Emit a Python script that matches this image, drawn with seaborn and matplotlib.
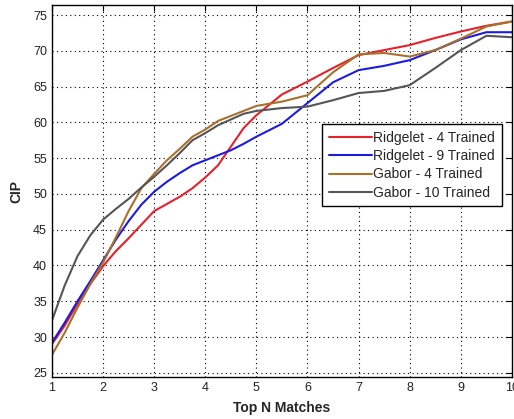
import numpy as np
import pandas as pd
import seaborn as sns
import matplotlib

matplotlib.use("Agg")
import matplotlib.pyplot as plt

# values (finer steps where the curves bend hard)
top_n = [1, 1.25, 1.5, 1.75, 2, 2.25, 2.5, 2.75, 3, 3.25, 3.5, 3.75, 4, 4.25,
         4.5, 4.75, 5, 5.5, 6, 6.5, 7, 7.5, 8, 8.5, 9, 9.5, 10]

ridgelet_4 = [29.0, 31.6, 34.6, 37.4, 39.9, 42.0, 43.8, 45.7, 47.6, 48.6, 49.6,
              50.8, 52.3, 54.0, 56.6, 59.2, 61.0, 63.9, 65.7, 67.6, 69.4, 70.1,
              70.8, 71.8, 72.7, 73.5, 74.1]
ridgelet_9 = [29.2, 32.0, 35.0, 37.8, 40.7, 43.6, 46.2, 48.5, 50.3, 51.7, 52.9,
              54.0, 54.7, 55.4, 56.1, 57.0, 58.0, 59.8, 62.7, 65.6, 67.3, 67.9,
              68.7, 70.1, 71.6, 72.6, 72.6]
gabor_4 = [27.5, 30.6, 34.1, 37.4, 40.4, 43.9, 47.6, 50.8, 52.8, 54.7, 56.3,
           58.0, 59.0, 60.2, 60.9, 61.6, 62.3, 62.9, 63.8, 67.0, 69.5, 69.7,
           69.2, 70.1, 71.7, 73.4, 74.1]
gabor_10 = [32.3, 37.2, 41.3, 44.2, 46.4, 47.9, 49.3, 50.9, 52.4, 54.0, 55.7,
            57.5, 58.5, 59.6, 60.4, 61.2, 61.6, 62.0, 62.2, 63.1, 64.1, 64.4,
            65.2, 67.6, 70.1, 72.1, 71.9]

series_names = ["Ridgelet - 4 Trained", "Ridgelet - 9 Trained",
                "Gabor - 4 Trained", "Gabor - 10 Trained"]
series_colors = ["#e8202a", "#1c1ce0", "#a8702a", "#555555"]

x_ticks = list(range(1, 11))
y_ticks = list(range(25, 80, 5))


def build_frame():
    frames = []
    for name, values in zip(series_names,
                            [ridgelet_4, ridgelet_9, gabor_4, gabor_10]):
        frames.append(pd.DataFrame({"N": top_n, "CIP": values, "method": name}))
    return pd.concat(frames, ignore_index=True)


def main():
    sns.set_style("white")
    plt.rcParams["font.family"] = ["Liberation Sans", "DejaVu Sans"]

    df = build_frame()

    fig = plt.figure(figsize=(5.14, 4.19), dpi=100)
    ax = fig.add_axes([0.101, 0.100, 0.895, 0.888])

    sns.lineplot(
        data=df,
        x="N",
        y="CIP",
        hue="method",
        hue_order=series_names,
        palette=series_colors,
        linewidth=1.5,
        ax=ax,
    )

    ax.set_xlim(1, 10)
    ax.set_ylim(24.4, 76.4)
    ax.set_xticks(x_ticks)
    ax.set_yticks(y_ticks)
    ax.grid(True, linestyle=(0, (1, 3)), color="black", linewidth=0.8)
    ax.tick_params(direction="in", top=True, right=True, length=4,
                   labelsize=9, labelcolor="#222222", color="black")
    for spine in ax.spines.values():
        spine.set_color("black")
        spine.set_linewidth(1.0)

    ax.set_xlabel("Top N Matches", fontsize=10, fontweight="bold", labelpad=5)
    ax.set_ylabel("CIP", fontsize=10, fontweight="bold", labelpad=7)

    leg = ax.legend(
        loc="upper right",
        bbox_to_anchor=(0.978, 0.680),
        borderaxespad=0,
        fontsize=10,
        frameon=True,
        fancybox=False,
        framealpha=1,
        edgecolor="black",
        handlelength=3.1,
        handletextpad=0.05,
        labelspacing=0.3,
        borderpad=0.5,
        title=None,
    )
    leg.get_frame().set_linewidth(1.0)

    fig.savefig("out.png", dpi=100)


if __name__ == "__main__":
    main()
